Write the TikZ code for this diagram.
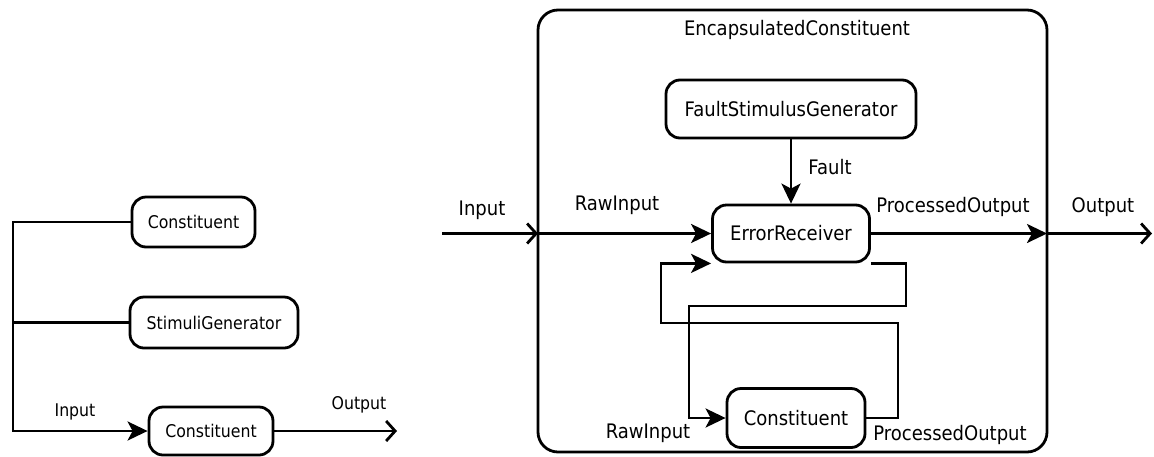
\documentclass[tikz,border=0pt]{standalone}
\usepackage{fontspec}
\setmainfont{DejaVu Sans}[FakeStretch=0.9]
\usetikzlibrary{arrows.meta}
\begin{document}
\begin{tikzpicture}[x=1pt,y=-1pt, line width=2.8pt,
  box/.style={draw, rounded corners=14pt, inner sep=0pt},
  lfont/.style={font=\fontsize{17.5}{21}\selectfont},
  rfont/.style={font=\fontsize{20}{24}\selectfont},
  lbl/.style={inner sep=0pt},
  fa/.style={-{Stealth[length=20pt,width=19pt,inset=5pt]}},
  oa/.style={-{Straight Barb[length=9pt,width=20pt]}}
]
\useasboundingbox (0,0) rectangle (1154,456);
\fill[white] (0,0) rectangle (1154,456);

% ---------- left part ----------
\node[box, lfont, minimum width=123pt, minimum height=50pt] (c1) at (193.5,222) {Constituent};
\node[box, lfont, minimum width=168pt, minimum height=51pt] (sg) at (214,322.5) {StimuliGenerator};
\node[box, lfont, minimum width=124pt, minimum height=48pt] (c3) at (211,431) {Constituent};
\coordinate (lt) at (13,222);
\coordinate (lb) at (13,431);
\coordinate (lo) at (397,431);
\draw[fa] (c1.west) -- (lt) -- (lb) -- (c3.west);
\draw (sg.west) -- (sg.west -| lt);
\draw[oa] (c3.east) -- (lo);
\node[lbl, lfont] (lin) at (75,412) {Input};
\node[lbl, lfont] (lout) at (359,405) {Output};

% ---------- right part ----------
\node[draw, rounded corners=20pt, inner sep=0pt, minimum width=509pt, minimum height=442pt] (enc) at (792.5,231) {};
\node[lbl, rfont] (encl) at (797,30) {EncapsulatedConstituent};
\node[box, rfont, minimum width=250pt, minimum height=58pt] (fsg) at (791,109) {FaultStimulusGenerator};
\node[box, rfont, minimum width=157pt, minimum height=57pt] (er) at (791,233.5) {ErrorReceiver};
\node[box, rfont, minimum width=138pt, minimum height=59pt] (ci) at (796,418) {Constituent};

\coordinate (in0) at (442,233.5);
\coordinate (inB) at (538,233.5);
\coordinate (outB) at (1047,233.5);
\coordinate (out1) at (1152,233.5);
\draw[oa] (in0) -- (inB);
\draw[fa] (inB) -- (er.west);
\draw[fa] (fsg.south) -- (er.north);
\draw[fa] (er.east) -- (outB);
\draw[oa] (outB) -- (out1);

\coordinate (p1) at (906,306);
\coordinate (p2) at (689,306);
\draw[fa] (er.south east) -| (p1) -- (p2) |- (ci.west);
\coordinate (q1) at (898,323);
\coordinate (q2) at (661,323);
\draw[fa] (ci.east) -| (q1) -- (q2) |- (er.south west);

\node[lbl, rfont] (rin) at (482,210) {Input};
\node[lbl, rfont] (rraw) at (617,205) {RawInput};
\node[lbl, rfont] (rfault) at (830,167) {Fault};
\node[lbl, rfont] (rpo) at (953,207) {ProcessedOutput};
\node[lbl, rfont] (rout) at (1103,207) {Output};
\node[lbl, rfont] (rraw2) at (648,433) {RawInput};
\node[lbl, rfont] (rpo2) at (950,435) {ProcessedOutput};
\end{tikzpicture}
\end{document}
